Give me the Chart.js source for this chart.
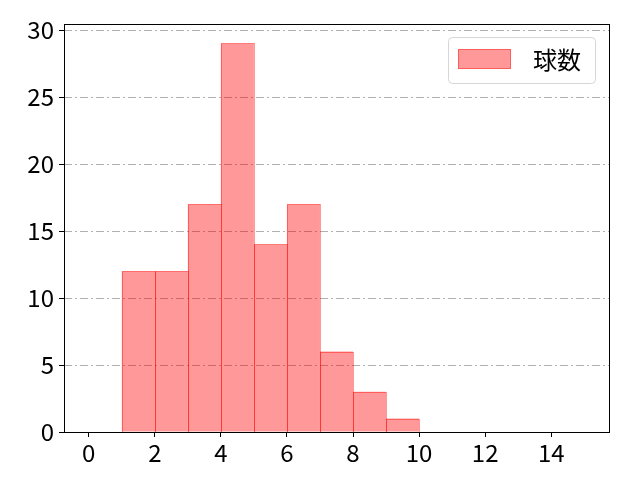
<!DOCTYPE html>
<html>
<head>
<meta charset="utf-8">
<script src="https://cdn.jsdelivr.net/npm/chart.js@4"></script>
<style>
  body { margin: 0; background: #fff; }
  #wrap { width: 640px; height: 480px; }
</style>
</head>
<body>
<div id="wrap"><canvas id="id_canv" width="640" height="480"></canvas></div>
<script>
// histogram bins (left edges) and counts
const binStarts = [1, 2, 3, 4, 5, 6, 7, 8, 9]
const counts = [12, 12, 17, 29, 14, 17, 6, 3, 1]
const seriesLabel = '球数'
const xTicks = [0, 2, 4, 6, 8, 10, 12, 14]
const yTicks = [0, 5, 10, 15, 20, 25, 30]

const FONT = "'Noto Sans CJK JP', 'Noto Sans', sans-serif"
const EDGE = 'rgba(255,0,0,0.4)'

// bars are centred in each bin
let points = binStarts.map((b, i) => ({ x: b + 0.5, y: counts[i] }))

/* translucent bar edges, overlapping like matplotlib's hist edges */
const edgePlugin = {
  id: 'edges',
  afterDatasetsDraw(chart) {
    let c = chart.ctx
    c.save()
    c.strokeStyle = EDGE
    c.lineWidth = 1
    chart.getDatasetMeta(0).data.forEach((el) => {
      let l = Math.round(el.x - el.width / 2)
      let r = Math.round(el.x + el.width / 2)
      let t = Math.round(el.y)
      let b = Math.round(el.base)
      c.strokeRect(l + 0.5, t + 0.5, r - l, b - t)
    })
    c.restore()
  }
}

/* frame around the plot area and a matplotlib-style legend box */
const framePlugin = {
  id: 'frame',
  afterDraw(chart) {
    let c = chart.ctx
    let a = chart.chartArea
    c.save()
    c.strokeStyle = '#000'
    c.lineWidth = 1
    c.strokeRect(Math.round(a.left) + 0.5, Math.round(a.top) + 0.5,
      Math.round(a.right - a.left), Math.round(a.bottom - a.top))

    // legend
    let bx = 448, by = 37, bw = 147, bh = 46
    c.strokeStyle = '#d6d6d6'
    c.fillStyle = 'rgba(255,255,255,0.8)'
    c.beginPath()
    c.roundRect(bx + 0.5, by + 0.5, bw, bh, 4)
    c.fill()
    c.stroke()
    c.fillStyle = 'rgba(255,0,0,0.4)'
    c.strokeStyle = EDGE
    c.fillRect(458, 49, 53, 20)
    c.strokeRect(458.5, 49.5, 52, 19)
    c.fillStyle = '#000'
    c.font = '24px ' + FONT
    c.textBaseline = 'middle'
    c.fillText(chart.data.datasets[0].label, 533, 60)
    c.restore()
  }
}

new Chart(document.getElementById('id_canv'), {
  type: 'bar',
  data: {
    datasets: [
      {
        label: seriesLabel,
        data: points,
        backgroundColor: 'rgba(255,0,0,0.4)',
        borderWidth: 0,
        inflateAmount: 0,
        barPercentage: 1,
        categoryPercentage: 1,
        grouped: false,
      },
    ],
  },
  options: {
    responsive: false,
    animation: false,
    devicePixelRatio: 1,
    layout: { padding: { top: 24, right: 31, left: 0, bottom: 0 } },
    plugins: {
      legend: { display: false },
      tooltip: { enabled: false },
    },
    scales: {
      x: {
        type: 'linear',
        min: -0.75,
        max: 15.75,
        offset: false,
        afterBuildTicks: (s) => { s.ticks = xTicks.map(v => ({ value: v })) },
        afterFit: (s) => { s.height = 48 },
        grid: {
          display: true,
          offset: false,
          drawOnChartArea: false,
          drawTicks: true,
          tickLength: 5,
          tickColor: '#000',
        },
        border: { display: false },
        ticks: {
          color: '#000',
          font: { family: FONT, size: 24 },
          padding: 1,
          maxRotation: 0,
          autoSkip: false,
        },
      },
      y: {
        min: 0,
        max: 30.45,
        afterBuildTicks: (s) => { s.ticks = yTicks.map(v => ({ value: v })) },
        afterFit: (s) => { s.width = 64 },
        grid: {
          color: '#b0b0b0',
          lineWidth: 1,
          drawTicks: true,
          tickLength: 5,
          tickColor: '#000',
        },
        border: { display: false, dash: [8, 3, 2, 3] },
        ticks: {
          color: '#000',
          font: { family: FONT, size: 24 },
          padding: 5,
        },
      },
    },
  },
  plugins: [edgePlugin, framePlugin],
})
</script>
</body>
</html>
